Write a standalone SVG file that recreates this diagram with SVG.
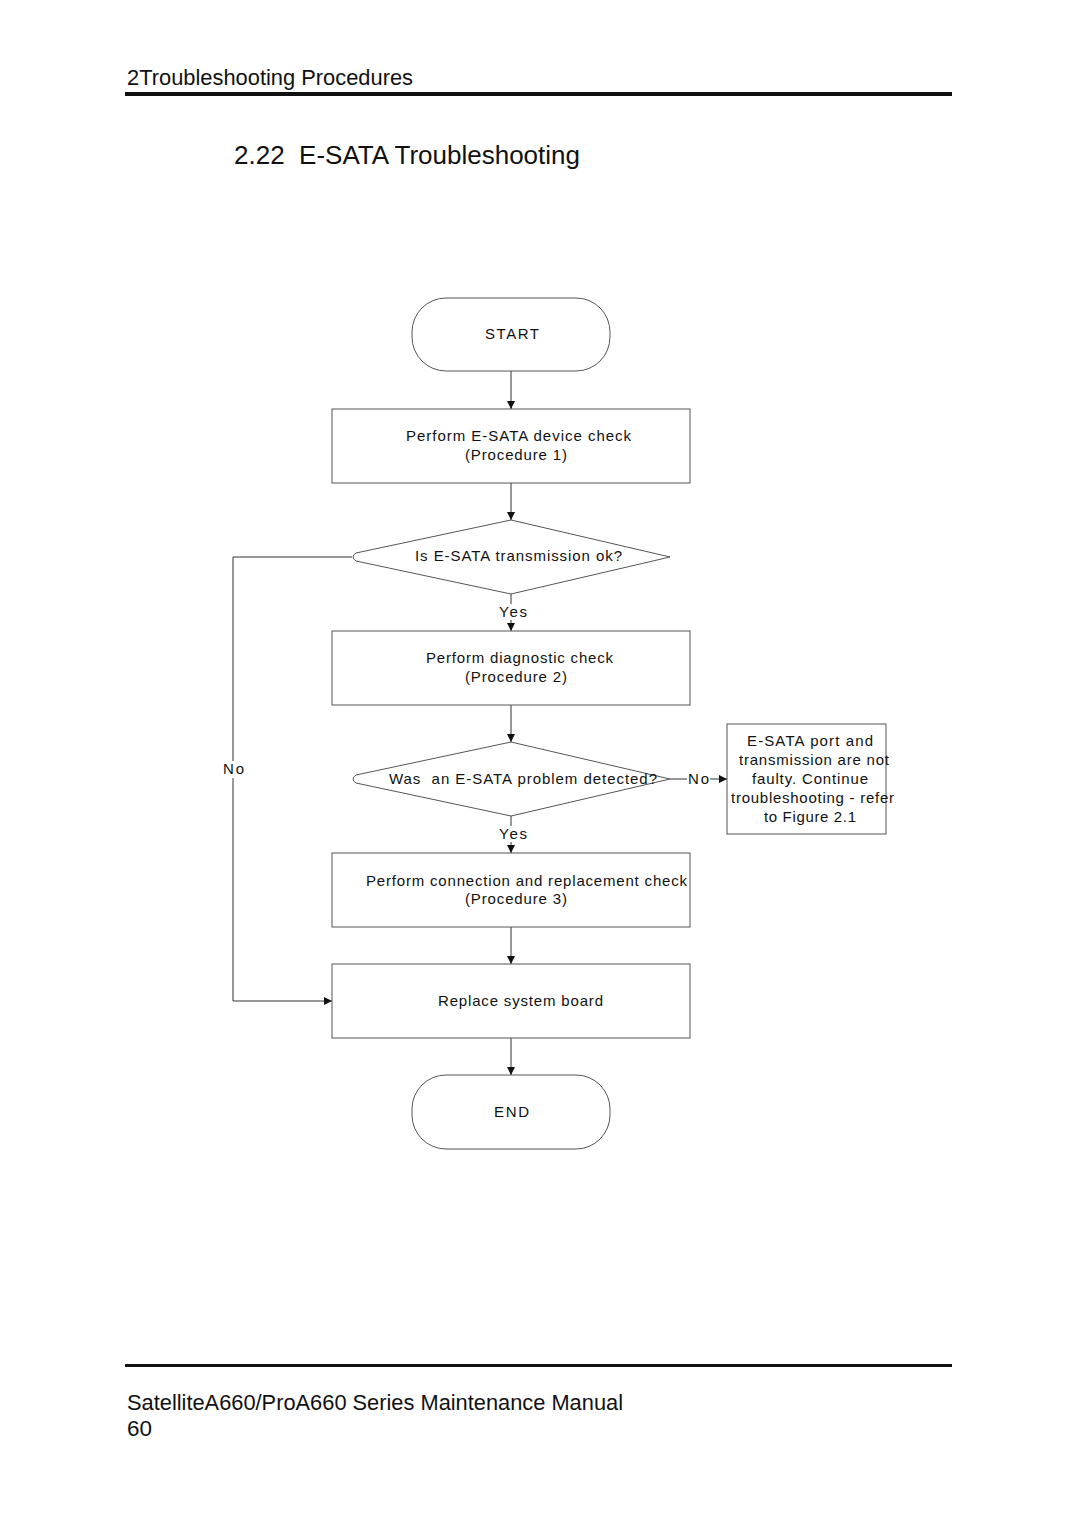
<svg xmlns="http://www.w3.org/2000/svg" width="1080" height="1528" viewBox="0 0 1080 1528">
<style>
.pg{font-family:"Liberation Sans",Arial,sans-serif;fill:#111}
.t{font-family:"Liberation Sans",Arial,sans-serif;font-size:15px;fill:#111}
.s{fill:#fff;stroke:#555;stroke-width:1}
.c{fill:none;stroke:#333;stroke-width:1}
</style>
<defs>
<marker id="ah" viewBox="0 0 10 10" refX="10" refY="5" markerWidth="8" markerHeight="8" markerUnits="userSpaceOnUse" orient="auto">
<path d="M0,0 L10,5 L0,10 z" fill="#111"/>
</marker>
</defs>
<rect width="1080" height="1528" fill="#fff"/>
<text class="pg" x="127" y="85" font-size="21.5" textLength="286" lengthAdjust="spacingAndGlyphs">2Troubleshooting Procedures</text>
<rect x="125" y="92" width="827" height="4" fill="#111"/>
<text class="pg" x="234" y="164" font-size="25.5" textLength="346" lengthAdjust="spacingAndGlyphs" xml:space="preserve">2.22  E-SATA Troubleshooting</text>

<g id="connectors">
<line class="c" x1="511" y1="371" x2="511" y2="409" marker-end="url(#ah)"/>
<line class="c" x1="511" y1="483" x2="511" y2="520" marker-end="url(#ah)"/>
<line class="c" x1="511" y1="594" x2="511" y2="631" marker-end="url(#ah)"/>
<line class="c" x1="511" y1="705" x2="511" y2="742" marker-end="url(#ah)"/>
<line class="c" x1="511" y1="816" x2="511" y2="853" marker-end="url(#ah)"/>
<line class="c" x1="511" y1="927" x2="511" y2="964" marker-end="url(#ah)"/>
<line class="c" x1="511" y1="1038" x2="511" y2="1075" marker-end="url(#ah)"/>
<polyline class="c" points="352,557 233,557 233,1001 332,1001" marker-end="url(#ah)"/>
<line class="c" x1="670" y1="779" x2="727" y2="779" marker-end="url(#ah)"/>
<rect x="498" y="604" width="30" height="16" fill="#fff"/>
<text class="t" x="499" y="617" textLength="28" lengthAdjust="spacing">Yes</text>
<rect x="498" y="826" width="30" height="16" fill="#fff"/>
<text class="t" x="499" y="839" textLength="28" lengthAdjust="spacing">Yes</text>
<rect x="222" y="761" width="23" height="17" fill="#fff"/>
<text class="t" x="223" y="774" textLength="21" lengthAdjust="spacing">No</text>
<rect x="687" y="771" width="23" height="16" fill="#fff"/>
<text class="t" x="688" y="784" textLength="21" lengthAdjust="spacing">No</text>
</g>

<g id="start">
<rect class="s" x="412" y="298" width="198" height="73" rx="34" ry="34"/>
<text class="t" x="485" y="339" textLength="54" lengthAdjust="spacing">START</text>
</g>
<g id="proc1">
<rect class="s" x="332" y="409" width="358" height="74"/>
<text class="t" x="406" y="441" textLength="225" lengthAdjust="spacing">Perform E-SATA device check</text>
<text class="t" x="465" y="460" textLength="102" lengthAdjust="spacing">(Procedure 1)</text>
</g>
<g id="dec1">
<path class="s" d="M511,520 L670,557 L511,594 L356,561 Q350,557 356,553 Z"/>
<text class="t" x="415" y="561" textLength="207" lengthAdjust="spacing">Is E-SATA transmission ok?</text>
</g>
<g id="proc2">
<rect class="s" x="332" y="631" width="358" height="74"/>
<text class="t" x="426" y="663" textLength="187" lengthAdjust="spacing">Perform diagnostic check</text>
<text class="t" x="465" y="682" textLength="102" lengthAdjust="spacing">(Procedure 2)</text>
</g>
<g id="dec2">
<path class="s" d="M511,742 L670,779 L511,816 L356,783 Q350,779 356,775 Z"/>
<text class="t" x="389" y="784" textLength="268" lengthAdjust="spacing" xml:space="preserve">Was  an E-SATA problem detected?</text>
</g>
<g id="note">
<rect class="s" x="727" y="724" width="159" height="110"/>
<text class="t" x="747" y="746" textLength="126" lengthAdjust="spacing">E-SATA port and</text>
<text class="t" x="739" y="765" textLength="150" lengthAdjust="spacing">transmission are not</text>
<text class="t" x="752" y="784" textLength="116" lengthAdjust="spacing">faulty. Continue</text>
<text class="t" x="731" y="803" textLength="163" lengthAdjust="spacing">troubleshooting - refer</text>
<text class="t" x="764" y="822" textLength="92" lengthAdjust="spacing">to Figure 2.1</text>
</g>
<g id="proc3">
<rect class="s" x="332" y="853" width="358" height="74"/>
<text class="t" x="366" y="886" textLength="321" lengthAdjust="spacing">Perform connection and replacement check</text>
<text class="t" x="465" y="904" textLength="102" lengthAdjust="spacing">(Procedure 3)</text>
</g>
<g id="replace">
<rect class="s" x="332" y="964" width="358" height="74"/>
<text class="t" x="438" y="1006" textLength="165" lengthAdjust="spacing">Replace system board</text>
</g>
<g id="end">
<rect class="s" x="412" y="1075" width="198" height="74" rx="34" ry="34"/>
<text class="t" x="494" y="1117" textLength="35" lengthAdjust="spacing">END</text>
</g>

<rect x="125" y="1364" width="827" height="3" fill="#111"/>
<text class="pg" x="127" y="1410" font-size="21.5" textLength="496" lengthAdjust="spacingAndGlyphs">SatelliteA660/ProA660 Series Maintenance Manual</text>
<text class="pg" x="127" y="1436" font-size="21.5" textLength="25" lengthAdjust="spacingAndGlyphs">60</text>
</svg>
